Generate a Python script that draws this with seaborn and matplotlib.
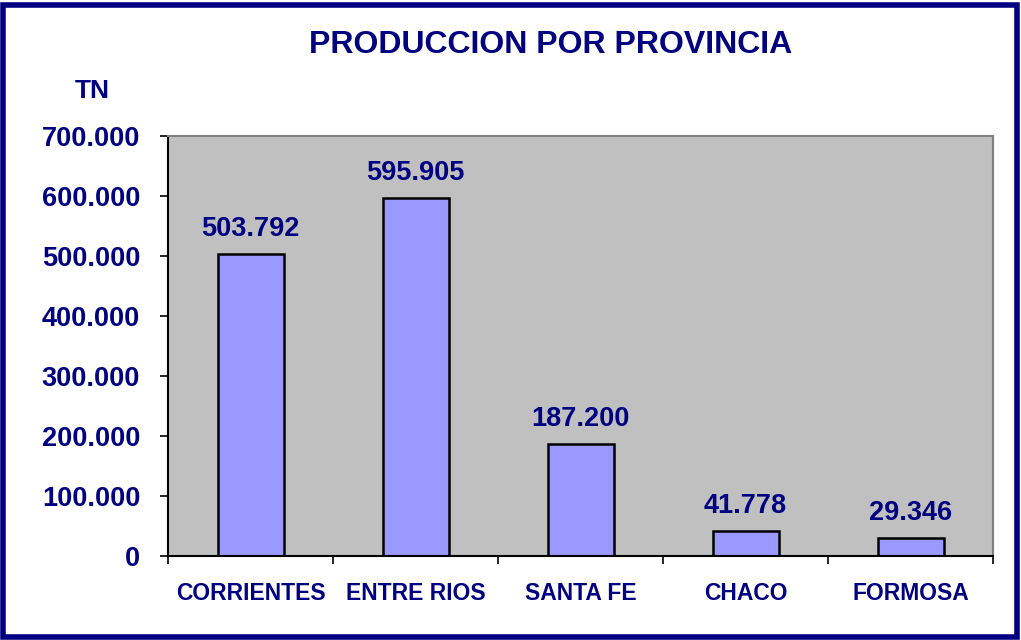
import matplotlib
matplotlib.use("Agg")
import matplotlib.pyplot as plt
import seaborn as sns
import pandas as pd
from matplotlib.patches import Rectangle
from matplotlib.ticker import FuncFormatter

provincias = ["CORRIENTES", "ENTRE RIOS", "SANTA FE", "CHACO", "FORMOSA"]
produccion = [503792, 595905, 187200, 41778, 29346]
yticks = [0, 100000, 200000, 300000, 400000, 500000, 600000, 700000]

navy = "#000080"
sns.set_style("white")
plt.rcParams['font.family'] = ['Liberation Sans', 'DejaVu Sans']

df = pd.DataFrame({"prov": provincias, "tn": produccion})

fig = plt.figure(figsize=(10.21, 6.4), dpi=100)
fig.patch.set_facecolor("white")
ax = fig.add_axes([168/1021, 1-556/640, (993-168)/1021, (556-136)/640])
ax.set_facecolor("#C0C0C0")

sns.barplot(data=df, x="prov", y="tn", ax=ax, color="#9999FF", saturation=1,
            width=0.4, edgecolor="black", linewidth=1.8)

def fmt(v):
    return f"{int(round(v)):,}".replace(",", ".")

ax.set_ylim(0, 700000)
ax.set_xlim(-0.5, len(provincias) - 0.5)
ax.set_yticks(yticks)
ax.yaxis.set_major_formatter(FuncFormatter(lambda v, p: fmt(v)))
ax.tick_params(axis="y", which="major", direction="out", length=6, width=1.2,
               color="black", labelsize=19.5, labelcolor=navy, pad=14, left=True)
for lbl in ax.get_yticklabels():
    lbl.set_fontweight("bold")
ax.set_xticks(range(len(provincias)))
ax.set_xticklabels(provincias, fontsize=16.5, fontweight="bold", color=navy)
ax.tick_params(axis="x", which="major", length=0, pad=19)
ax.set_xticks([i + 0.5 for i in range(-1, len(provincias))], minor=True)
ax.tick_params(axis="x", which="minor", direction="out", length=6, width=1.2, color="black", bottom=True)
ax.set_xlabel("")
ax.set_ylabel("")

for s in ["top", "right"]:
    ax.spines[s].set_color("#808080")
    ax.spines[s].set_linewidth(1.5)
for s in ["left", "bottom"]:
    ax.spines[s].set_color("black")
    ax.spines[s].set_linewidth(1.5)

for i, v in enumerate(produccion):
    ax.annotate(fmt(v), (i, v), xytext=(0, 13), textcoords="offset points",
                ha="center", va="baseline", fontsize=19.5, fontweight="bold", color=navy)

fig.text(551/1021, 1-45/640, "PRODUCCION POR PROVINCIA", ha="center", va="center",
         fontsize=23, fontweight="bold", color=navy)
fig.text(92/1021, 1-91/640, "TN", ha="center", va="center", fontsize=19,
         fontweight="bold", color=navy)

fig.patches.append(Rectangle((2.5/1021, 3/640), 1-5/1021 - 2/1021, 1-6/640 - 2/640,
                             transform=fig.transFigure, fill=False,
                             edgecolor=navy, linewidth=4, zorder=10))

fig.savefig("out.png", dpi=100)
